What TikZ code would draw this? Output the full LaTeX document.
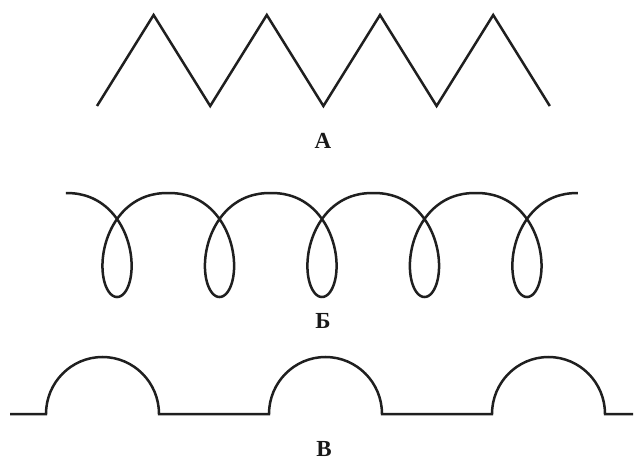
\documentclass[tikz,border=0pt]{standalone}
\usepackage{fontspec}
\setmainfont{Liberation Serif}
\begin{document}
\begin{tikzpicture}[x=1pt,y=-1pt,
  wire/.style={line width=2.5pt, draw=black!88, line join=miter, line cap=butt},
  lbl/.style={font=\fontsize{23}{26}\selectfont\bfseries, text=black!90, inner sep=0pt}]
\useasboundingbox[fill=white] (0,0) rectangle (634,462);
% A: zigzag
\draw[wire] (97,106) -- (153.6,15) -- (210.2,106) -- (266.8,15) -- (323.4,106)
  -- (380,15) -- (436.6,106) -- (493.2,15) -- (549.8,106);
\node[lbl] (la) at (323,141) {А};
% B: loops
\draw[wire, line join=round] plot[domain=0:31.4159, samples=700, smooth, variable=\t]
  ({65.8+16.31*\t+36.5*sin(\t r)}, {193+104*pow(abs(sin(\t/2 r))+0.0001,2.2)});
\node[lbl] (lb) at (323,321) {Б};
% V: arches
\draw[wire] (10,414) -- (46,414)
  arc[start angle=180, end angle=360, x radius=56.5, y radius=57]
  -- (269,414)
  arc[start angle=180, end angle=360, x radius=56.5, y radius=57]
  -- (492,414)
  arc[start angle=180, end angle=360, x radius=56.5, y radius=57]
  -- (633,414);
\node[lbl] (lv) at (324,449) {В};
\end{tikzpicture}
\end{document}
